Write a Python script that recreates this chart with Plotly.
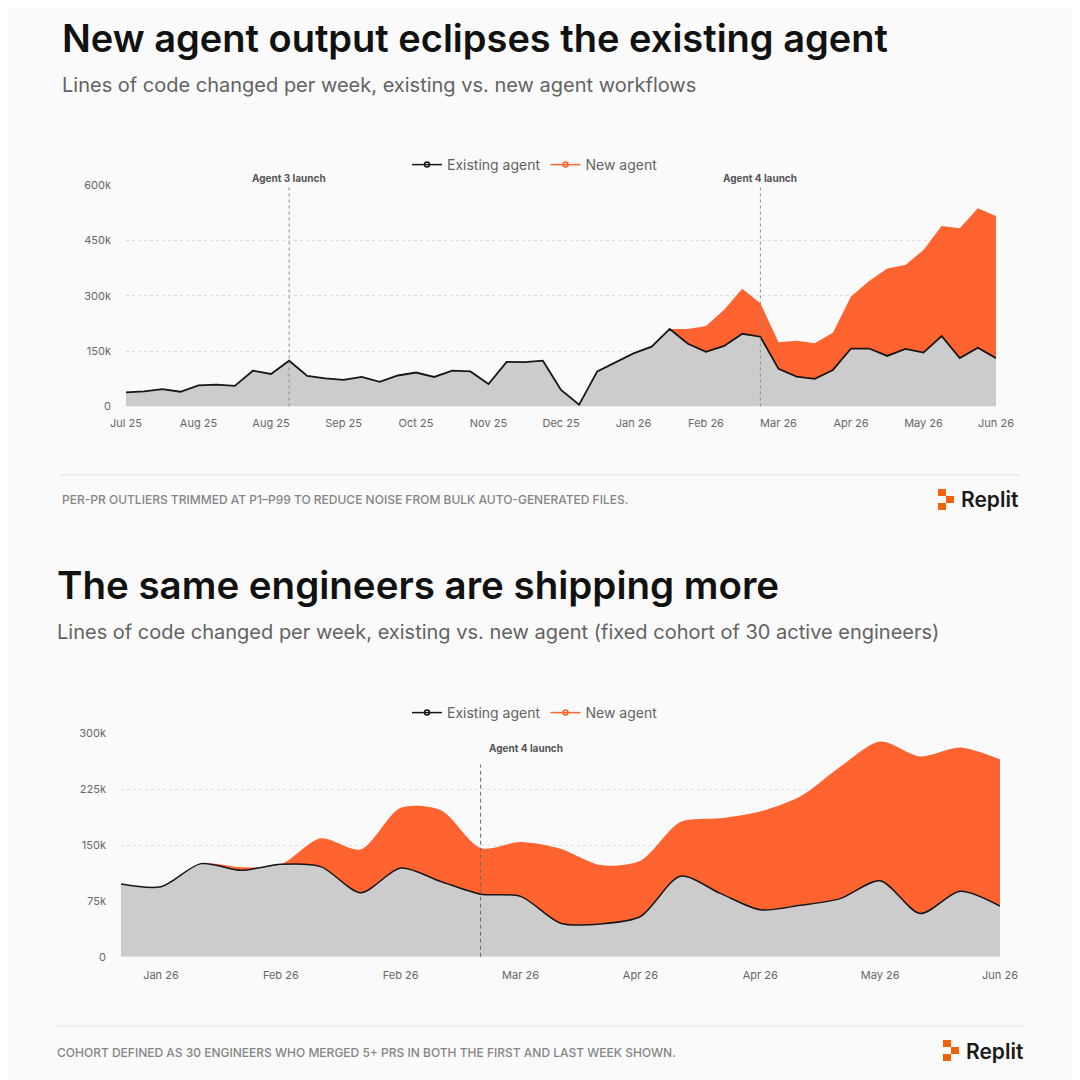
import plotly.graph_objects as go

# ---- top panel: weekly LOC changed, Jul 25 .. Jun 26 ----
top_weeks = list(range(49))
top_existing = [38000, 41000, 47000, 40000, 57000, 59000, 56000, 97000, 88000, 124000,
                83000, 76000, 72000, 80000, 67000, 84000, 92000, 80000, 97000, 95000,
                61000, 121000, 120000, 124000, 45000, 5000, 95000, 119000, 144000, 162000,
                210000, 170000, 148000, 164000, 197000, 189000, 102000, 81000, 75000, 99000,
                157000, 157000, 137000, 156000, 146000, 191000, 131000, 159000, 131000]
top_new = [0] * 30 + [0, 40000, 70000, 98000, 122000, 91000, 72000, 97000, 96000, 101000,
                      141000, 183000, 237000, 227000, 278000, 298000, 352000, 378000, 385000]
top_ticklabels = ["Jul 25", "Aug 25", "Aug 25", "Sep 25", "Oct 25", "Nov 25", "Dec 25",
                  "Jan 26", "Feb 26", "Mar 26", "Apr 26", "May 26", "Jun 26"]
top_yticks = [0, 150000, 300000, 450000, 600000]
top_yticklabels = ["0", "150k", "300k", "450k", "600k"]
top_launches = [(9, "Agent 3 launch"), (35, "Agent 4 launch")]

# ---- bottom panel: fixed cohort of 30 engineers ----
bot_weeks = list(range(23))
bot_existing = [97600, 94000, 125000, 116000, 124000, 121000, 86000, 119000, 101000, 84000,
                81000, 45000, 44000, 54000, 108000, 85000, 63000, 69000, 78000, 102000,
                58000, 88000, 68000]
bot_new = [0, 0, 0, 4000, 0, 38000, 58000, 81000, 96000, 62000,
           73000, 100000, 79000, 75000, 73000, 101000, 132000, 146000, 177000, 187000,
           211000, 193000, 197000]
bot_ticklabels = ["Jan 26", "Feb 26", "Feb 26", "Mar 26", "Apr 26", "Apr 26", "May 26", "Jun 26"]
bot_yticks = [0, 75000, 150000, 225000, 300000]
bot_yticklabels = ["0", "75k", "150k", "225k", "300k"]
bot_launches = [(9, "Agent 4 launch")]

ORANGE = "#ff6430"
GREY_FILL = "#cccccc"
INK = "#161616"
MUTED = "#636363"
BG = "#fafafa"

# page body adds an 8px offset; positions below are in screen pixels
OFF = 8


def px(x):
    return (x - OFF) / 1080


def py(y):
    return 1 - (y - OFF) / 1080


fig = go.Figure()

# top panel
fig.add_trace(go.Scatter(x=top_weeks, y=top_existing, stackgroup="top", mode="lines",
                         line=dict(color=INK, width=1.8), fillcolor=GREY_FILL,
                         xaxis="x", yaxis="y", showlegend=False, hoverinfo="skip"))
fig.add_trace(go.Scatter(x=top_weeks, y=top_new, stackgroup="top", mode="lines",
                         line=dict(color=ORANGE, width=0), fillcolor=ORANGE,
                         xaxis="x", yaxis="y", showlegend=False, hoverinfo="skip"))

# bottom panel (smoothed)
fig.add_trace(go.Scatter(x=bot_weeks, y=bot_existing, stackgroup="bot", mode="lines",
                         line=dict(color=INK, width=1.5, shape="spline", smoothing=0.8),
                         fillcolor=GREY_FILL, xaxis="x2", yaxis="y2", showlegend=False,
                         hoverinfo="skip"))
fig.add_trace(go.Scatter(x=bot_weeks, y=bot_new, stackgroup="bot", mode="lines",
                         line=dict(color=ORANGE, width=0, shape="spline", smoothing=0.8),
                         fillcolor=ORANGE, xaxis="x2", yaxis="y2", showlegend=False,
                         hoverinfo="skip"))

# legend entries
for name, col, leg in [("Existing agent", INK, "legend"), ("New agent", ORANGE, "legend"),
                       ("Existing agent", INK, "legend2"), ("New agent", ORANGE, "legend2")]:
    fig.add_trace(go.Scatter(x=[None], y=[None], mode="lines+markers", name=name,
                             line=dict(color=col, width=1.5),
                             marker=dict(symbol="circle-open", size=5, color=col, line=dict(width=1.5)),
                             legend=leg, xaxis="x" if leg == "legend" else "x2",
                             yaxis="y" if leg == "legend" else "y2"))

axis_font = dict(family="Inter", size=11, color="#666666")

fig.update_layout(
    width=1080, height=1080,
    margin=dict(l=0, r=0, t=0, b=0),
    paper_bgcolor=BG, plot_bgcolor=BG,
    font=dict(family="Inter", color=MUTED),
    xaxis=dict(domain=[px(126), px(996)], range=[0, 48], anchor="y",
               tickvals=top_weeks[::4], ticktext=top_ticklabels,
               showgrid=False, zeroline=False, showline=False, ticks="",
               tickfont=axis_font, ticklabelstandoff=8, automargin=False),
    yaxis=dict(domain=[py(406.5), py(185)], range=[0, 600000], anchor="x",
               tickvals=top_yticks, ticktext=top_yticklabels,
               showgrid=True, gridcolor="#dedede", griddash="dot", gridwidth=1,
               zeroline=False, showline=False, ticks="",
               tickfont=axis_font, ticklabelstandoff=14, automargin=False),
    xaxis2=dict(domain=[px(121), px(1000)], range=[0, 22], anchor="y2",
                tickvals=bot_weeks[1::3], ticktext=bot_ticklabels,
                showgrid=False, zeroline=False, showline=False, ticks="",
                tickfont=axis_font, ticklabelstandoff=10, automargin=False),
    yaxis2=dict(domain=[py(956.7), py(733.3)], range=[0, 300000], anchor="x2",
                tickvals=bot_yticks, ticktext=bot_yticklabels,
                showgrid=True, gridcolor="#dedede", griddash="dot", gridwidth=1,
                zeroline=False, showline=False, ticks="",
                tickfont=axis_font, ticklabelstandoff=14, automargin=False),
    legend=dict(orientation="h", x=px(535), xanchor="center", y=py(165), yanchor="middle",
                bgcolor="rgba(0,0,0,0)", font=dict(size=14, color=MUTED),
                itemwidth=30, traceorder="normal"),
    legend2=dict(orientation="h", x=px(535), xanchor="center", y=py(713), yanchor="middle",
                 bgcolor="rgba(0,0,0,0)", font=dict(size=14, color=MUTED),
                 itemwidth=30, traceorder="normal"),
    showlegend=True,
)

# launch markers
for idx, label in top_launches:
    fig.add_shape(type="line", xref="x", yref="y domain", x0=idx, x1=idx, y0=0, y1=1,
                  line=dict(color="#8a8a8a", width=1, dash="3px,3px"), layer="above")
    fig.add_annotation(xref="x", yref="paper", x=idx, y=py(178), text="<b>" + label + "</b>",
                       showarrow=False, font=dict(size=10, color="#555555"), yanchor="middle")
for idx, label in bot_launches:
    fig.add_shape(type="line", xref="x2", yref="y2 domain", x0=idx, x1=idx, y0=0, y1=0.86,
                  line=dict(color="#6a6a6a", width=1, dash="4px,3px"), layer="above")
    fig.add_annotation(xref="x2", yref="paper", x=idx, y=py(748), text="<b>" + label + "</b>",
                       showarrow=False, font=dict(size=10, color="#555555"),
                       xanchor="left", xshift=6, yanchor="middle")

# titles / subtitles / footnotes
texts = [
    (60, 38, "New agent output eclipses the existing agent", dict(size=38, color="#111111", weight=600)),
    (60, 85, "Lines of code changed per week, existing vs. new agent workflows", dict(size=20, color=MUTED)),
    (55, 585, "The same engineers are shipping more", dict(size=38.5, color="#111111", weight=600)),
    (55, 632, "Lines of code changed per week, existing vs. new agent (fixed cohort of 30 active engineers)",
     dict(size=20, color=MUTED)),
    (60, 500, "PER-PR OUTLIERS TRIMMED AT P1\u2013P99 TO REDUCE NOISE FROM BULK AUTO-GENERATED FILES.",
     dict(size=12, color="#858585", weight=500)),
    (55, 1052, "COHORT DEFINED AS 30 ENGINEERS WHO MERGED 5+ PRS IN BOTH THE FIRST AND LAST WEEK SHOWN.",
     dict(size=12, color="#858585", weight=500)),
]
for x, y, t, f in texts:
    fig.add_annotation(xref="paper", yref="paper", x=px(x), y=py(y), text=t, showarrow=False,
                       xanchor="left", yanchor="middle", font=dict(family="Inter", **f))

# footer rules
for x0, x1, y in [(60, 1020, 475), (55, 1025, 1026)]:
    fig.add_shape(type="line", xref="paper", yref="paper", x0=px(x0), x1=px(x1), y0=py(y), y1=py(y),
                  line=dict(color="#e3e3e3", width=1))

# Replit logos
for lx, ly in [(938, 489), (943, 1040)]:
    blocks = [(0, 0, 8, 7), (8, 7, 16, 14), (0, 14, 8, 21)]
    for bx0, by0, bx1, by1 in blocks:
        fig.add_shape(type="rect", xref="paper", yref="paper",
                      x0=px(lx + bx0), x1=px(lx + bx1), y0=py(ly + by0), y1=py(ly + by1),
                      fillcolor="#f26207", line=dict(width=0))
    fig.add_annotation(xref="paper", yref="paper", x=px(lx + 21), y=py(ly + 11), text="Replit",
                       showarrow=False, xanchor="left", yanchor="middle",
                       font=dict(family="Inter", size=21, color="#1a1a1a", weight=600))

fig.write_html("out.html")
